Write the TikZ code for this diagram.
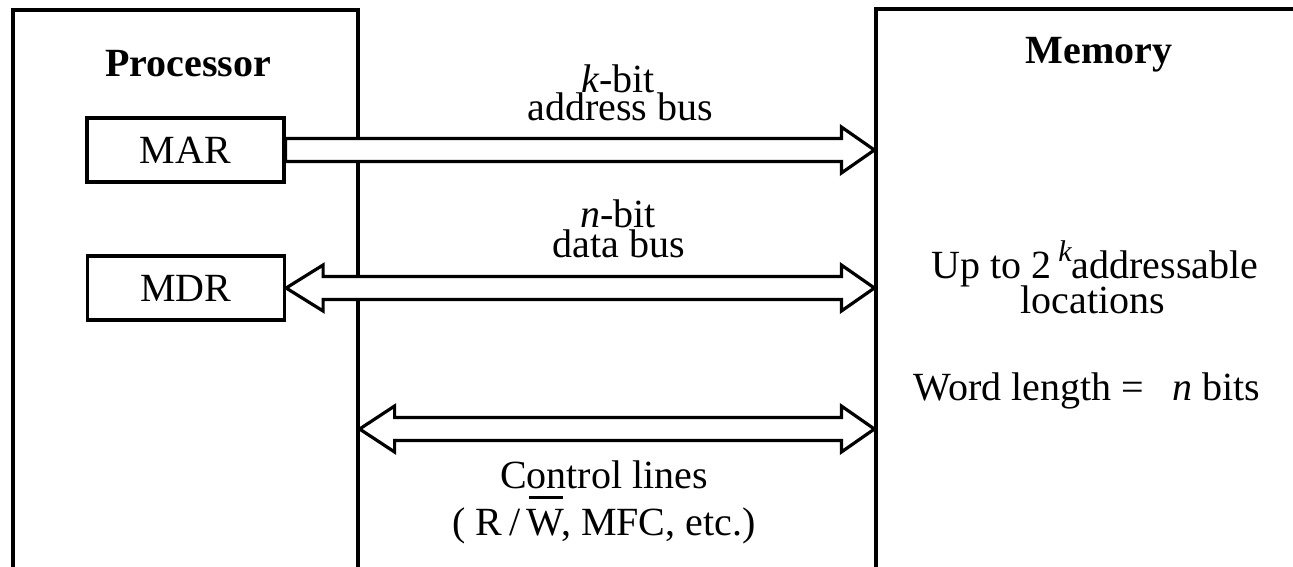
\documentclass[tikz,border=0pt]{standalone}
\usepackage{fontspec}
\setmainfont{Liberation Serif}
\usetikzlibrary{calc}

\begin{document}
\begin{tikzpicture}
[every node/.style={inner sep=0pt, font=\fontsize{40pt}{48pt}\selectfont},
 unit/.style={rectangle, draw=black, line width=3.2pt},
 reg/.style={rectangle, draw=black, line width=3.2pt, minimum width=197pt, minimum height=64pt},
 bus/.style={draw=black, fill=white, line width=3.2pt, line join=miter},
 title/.style={anchor=base, font=\fontsize{40pt}{48pt}\selectfont\bfseries},
 txt/.style={anchor=base}]
\useasboundingbox (0pt,0pt) rectangle (1293pt,-566pt);
\clip (0pt,0pt) rectangle (1293pt,-566pt);
\node (proc) [unit, minimum width=345pt, minimum height=690pt] at (185.5pt, -355.0pt) {};
\node (mem) [unit, minimum width=524pt, minimum height=691pt] at (1138.0pt, -354.5pt) {};
\node (mar) [reg] at (185.5pt, -150.0pt) {MAR};
\node (mdr) [reg] at (186.0pt, -288.0pt) {MDR};
\node (proctitle) [title] at (188.0pt, -76.0pt) {Processor};
\node (memtitle) [title] at (1099.0pt, -63.0pt) {Memory};
\node (addr1) [txt] at (618.0pt, -92.0pt) {\textit{k}-bit};
\node (addr2) [txt] at (620.0pt, -120.0pt) {address bus};
\node (data1) [txt] at (618.0pt, -227.0pt) {\textit{n}-bit};
\node (data2) [txt] at (619.0pt, -257.0pt) {data bus};
\node (ctrl1) [txt] at (604.0pt, -488.0pt) {Control lines};
\node (ctrl2) [txt] at (604.0pt, -535.0pt) {( R\,/\,\rlap{\hspace{0.05em}\rule[0.9em]{0.85em}{3.3pt}}W, MFC, etc.)};
\node (size1) [txt] at (1095.0pt, -278.0pt) {Up to 2\,\raisebox{0.42em}{\fontsize{30pt}{30pt}\selectfont\itshape k}addressable};
\node (size2) [txt] at (1093.0pt, -313.0pt) {locations};
\node (word) [txt] at (1087.0pt, -400.0pt) {Word length =\hspace{0.7em}\textit{n} bits};
\coordinate (ctrl) at (0pt, -429.0pt);
\draw [bus] (mar.east) -- ++(0pt,11.5pt) -| ($(mem.west |- mar.east)+(-33pt,23pt)$) -- (mem.west |- mar.east) -- ++(-33pt,-23pt) |- ($(mar.east)+(0pt,-11.5pt)$) -- cycle;
\draw [bus] (mdr.east) -- ++(37pt,23pt) |- ($(mem.west |- mdr.east)+(-33pt,11.5pt)$) -- ++(0pt,11.5pt) -- (mem.west |- mdr.east) -- ++(-33pt,-23pt) -- ++(0pt,11.5pt) -| ($(mdr.east)+(37pt,-23pt)$) -- cycle;
\draw [bus] (proc.east |- ctrl) -- ++(35pt,23pt) |- ($(mem.west |- ctrl)+(-33pt,11.5pt)$) -- ++(0pt,11.5pt) -- (mem.west |- ctrl) -- ++(-33pt,-23pt) -- ++(0pt,11.5pt) -| ($(proc.east |- ctrl)+(35pt,-23pt)$) -- cycle;
\end{tikzpicture}
\end{document}
